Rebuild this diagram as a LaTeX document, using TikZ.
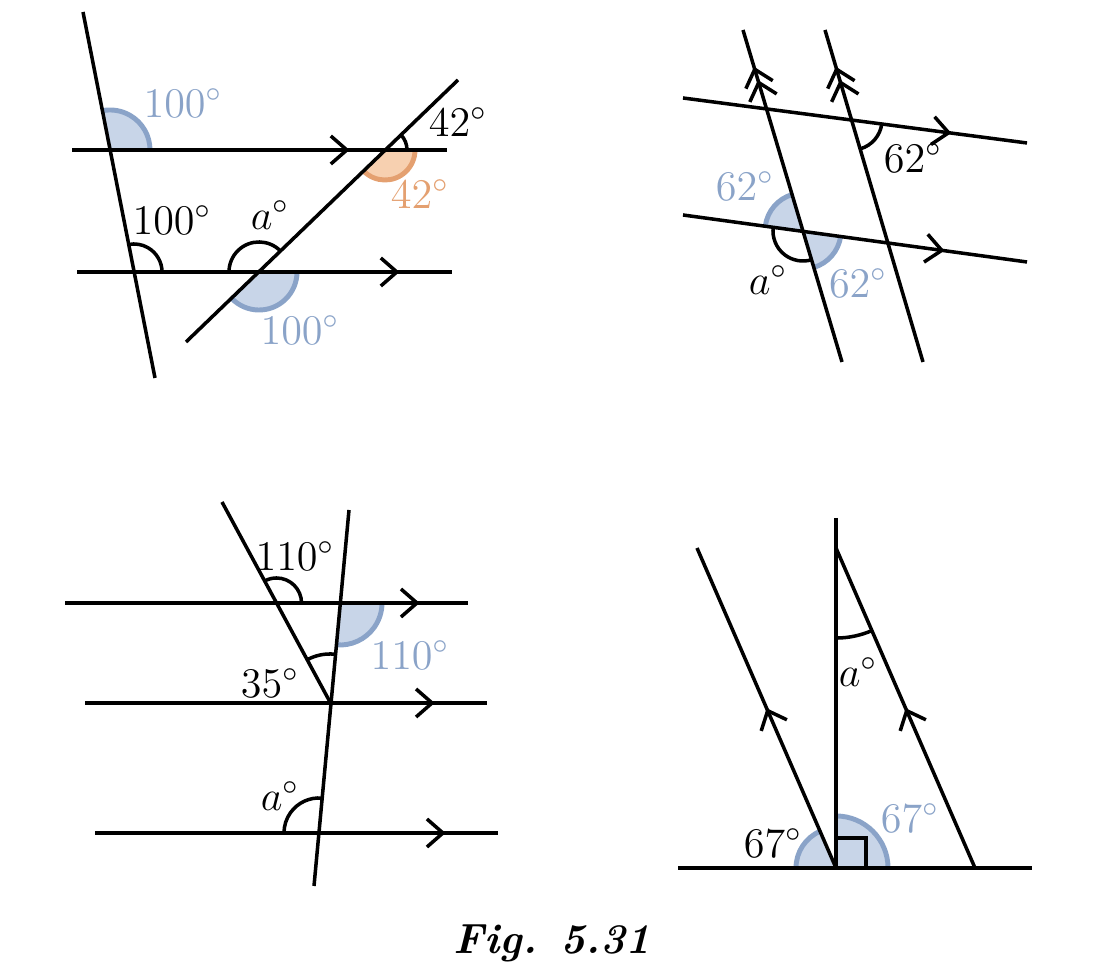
\documentclass[tikz,border=0pt]{standalone}
\usepackage{tikz}
\usetikzlibrary{arrows.meta,decorations.markings}
\definecolor{Shade}{RGB}{200, 213, 232}
\definecolor{ShadeLine}{RGB}{138, 163, 200}
\definecolor{Warm}{RGB}{247, 208, 176}
\definecolor{WarmLine}{RGB}{228, 160, 112}

\tikzset{
  line/.style={line width=1pt},
  mid/.style={postaction={decorate},decoration={markings,
    mark=at position #1 with {\arrow{Straight Barb[length=1.6mm,width=2.8mm,line width=1pt]}}}},
  twomid/.style 2 args={postaction={decorate},decoration={markings,
    mark=at position #1 with {\arrow{Straight Barb[length=1.6mm,width=2.8mm,line width=1pt]}},
    mark=at position #2 with {\arrow{Straight Barb[length=1.6mm,width=2.8mm,line width=1pt]}}}},
  lbl/.style={font=\large, inner sep=0pt},
  blbl/.style={lbl, text=ShadeLine},
  olbl/.style={lbl, text=WarmLine}
}
% sector: point, start, end, radius, fill, stroke
\newcommand{\sector}[6]{%
  \fill[#5] (#1) -- ++(#2:#4) arc[start angle=#2, end angle=#3, radius=#4] -- cycle;
  \draw[#6, line width=1.4pt] (#1) ++(#2:#4) arc[start angle=#2, end angle=#3, radius=#4];}
\newcommand{\angarc}[4]{%
  \draw[line] (#1) ++(#2:#4) arc[start angle=#2, end angle=#3, radius=#4];}

\begin{document}
\begin{tikzpicture}[x=0.01cm,y=0.01cm]
    %% Background
    \useasboundingbox (0,0) rectangle (1100,976);

    %% Top left
    \coordinate (ta) at (110,826);
    \coordinate (tb) at (134,704);
    \coordinate (tc) at (385,826);
    \coordinate (td) at (259,704);
    \sector{ta}{0}{101}{0.4cm}{Shade}{ShadeLine}
    \sector{tc}{224}{360}{0.3cm}{Warm}{WarmLine}
    \sector{td}{224}{360}{0.38cm}{Shade}{ShadeLine}
    \angarc{tb}{0}{101}{0.28cm}
    \angarc{tc}{0}{44}{0.22cm}
    \angarc{td}{44}{180}{0.3cm}
    \draw[line] (83,964) -- (155,598);
    \draw[line, mid=0.74] (72,826) -- (447,826);
    \draw[line, mid=0.86] (77,704) -- (452,704);
    \draw[line] (186,634) -- (458,896);
    \node[blbl] (t1) at (183,873) {$100^\circ$};
    \node[lbl]  (t2) at (172,756) {$100^\circ$};
    \node[lbl]  (t3) at (458,854) {$42^\circ$};
    \node[olbl] (t4) at (420,782) {$42^\circ$};
    \node[lbl]  (t5) at (270,761) {$a^\circ$};
    \node[blbl] (t6) at (300,646) {$100^\circ$};

    %% Top right
    \coordinate (ra) at (803,745);
    \coordinate (rb) at (852,856);
    \sector{ra}{106.6}{172.2}{0.38cm}{Shade}{ShadeLine}
    \sector{ra}{-73.4}{-7.8}{0.38cm}{Shade}{ShadeLine}
    \angarc{ra}{172.2}{286.6}{0.3cm}
    \angarc{rb}{-73.4}{-7.8}{0.3cm}
    \draw[line, twomid={0.85}{0.89}] (842,614) -- (743,946);
    \draw[line, twomid={0.85}{0.89}] (923,614) -- (825,946);
    \draw[line, mid=0.78] (683,878) -- (1027,833);
    \draw[line, mid=0.76] (683,761) -- (1027,714);
    \node[blbl] (r1) at (745,790) {$62^\circ$};
    \node[blbl] (r2) at (858,693) {$62^\circ$};
    \node[lbl]  (r3) at (768,696) {$a^\circ$};
    \node[lbl]  (r4) at (913,818) {$62^\circ$};

    %% Bottom left
    \coordinate (la) at (276.5,373);
    \coordinate (lb) at (340,373);
    \coordinate (lv) at (330,274);
    \coordinate (lc) at (319,143);
    \sector{lb}{264.7}{360}{0.42cm}{Shade}{ShadeLine}
    \angarc{la}{0}{118}{0.25cm}
    \angarc{lv}{84.7}{118}{0.48cm}
    \angarc{lc}{84.7}{180}{0.35cm}
    \draw[line] (222,474) -- (lv);
    \draw[line] (349,466) -- (314,90);
    \draw[line, mid=0.88] (65,373) -- (468,373);
    \draw[line, mid=0.87] (85,273) -- (487,273);
    \draw[line, mid=0.87] (95,143) -- (498,143);
    \node[lbl]  (l1) at (295,420) {$110^\circ$};
    \node[blbl] (l2) at (410,321) {$110^\circ$};
    \node[lbl]  (l3) at (270,293) {$35^\circ$};
    \node[lbl]  (l4) at (280,180) {$a^\circ$};

    %% Bottom right
    \coordinate (bo) at (836,108);
    \coordinate (bt) at (836,428);
    \sector{bo}{113.5}{180}{0.4cm}{Shade}{ShadeLine}
    \sector{bo}{0}{90}{0.52cm}{Shade}{ShadeLine}
    \draw[line] (bo) rectangle ++(0.3cm,0.3cm);
    \angarc{bt}{270}{293.5}{0.9cm}
    \draw[line] (678,108) -- (1032,108);
    \draw[line] (836,458) -- (bo);
    \draw[line, mid=0.5] (bo) -- (697,428);
    \draw[line, mid=0.5] (975,108) -- (bt);
    \node[lbl]  (b1) at (773,133) {$67^\circ$};
    \node[blbl] (b2) at (910,158) {$67^\circ$};
    \node[lbl]  (b3) at (858,304) {$a^\circ$};

    %% Caption
    \node[font=\large\bfseries\itshape] (cap) at (552,33) {Fig. 5.31};
\end{tikzpicture}
\end{document}
